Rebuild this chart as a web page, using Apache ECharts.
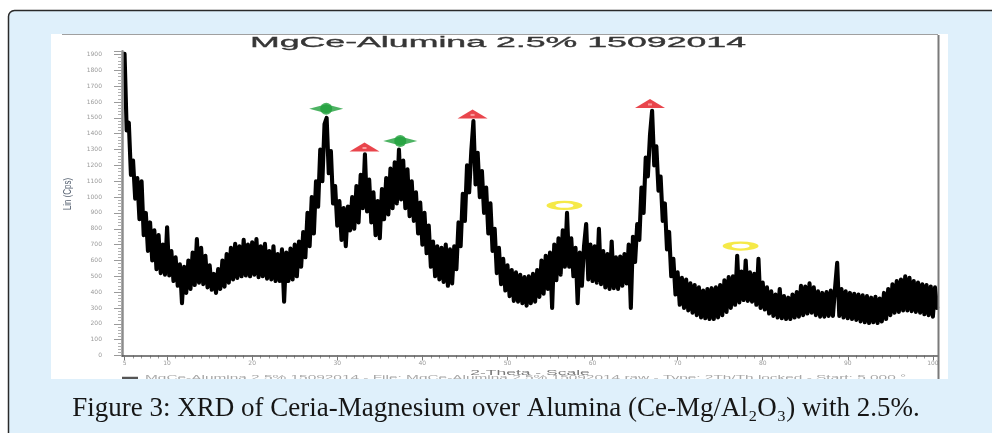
<!DOCTYPE html>
<html>
<head>
<meta charset="utf-8">
<script src="https://cdn.jsdelivr.net/npm/echarts@6/dist/echarts.min.js"></script>
<style>
html,body{margin:0;padding:0;background:#ffffff;}
#chart{width:992px;height:433px;}
</style>
</head>
<body>
<div id="chart"></div>
<script>
// ---- data ----
const chartTitle = 'MgCe-Alumina 2.5% 15092014';
const xAxisTitle = '2-Theta - Scale';
const yAxisTitle = 'Lin (Cps)';
const captionText = 'Figure 3: XRD of Ceria-Magnesium over Alumina (Ce-Mg/Al\u2082O\u2083) with 2.5%.';
const fileInfoText = 'MgCe-Alumina 2.5% 15092014 - File: MgCe-Alumina 2.5% 15092014.raw - Type: 2Th/Th locked - Start: 5.000 \u00b0';

const twoThetaStart = 5.0;   // degrees
const twoThetaStep = 0.25;   // degrees between samples
const intensityCps = [
  1905,1420,1470,1140, 1230,990,1120,860, 1100,760,900,660, 840,600,790,545,
  760,520,700,510, 810,505,660,470, 620,440,575,330, 560,395,600,420,
  650,445,735,460, 680,450,630,430, 570,415,515,395, 545,420,600,435,
  640,460,680,480, 705,490,690,500, 730,505,700,500, 715,510,735,495,
  690,500,705,485, 660,480,690,470, 640,470,670,340, 650,470,675,480,
  700,500,720,560, 780,620,900,690, 1000,770,1100,940, 1300,1100,1460,1500,
  1150,1290,960,1070, 820,975,730,930, 690,940,790,1000, 800,1070,840,1140,
  930,1270,910,1110, 840,1030,760,975, 740,1050,860,1120, 890,1180,930,1220,
  960,1300,985,1230, 930,1175,880,1100, 850,1030,770,965, 700,900,645,820,
  560,720,500,690, 480,680,465,700, 440,670,455,690, 545,840,690,1020,
  850,1200,1030,1290, 1480,1080,1280,1000, 1165,900,1060,770, 960,660,800,520,
  680,450,610,410, 570,375,540,345, 525,340,510,330, 495,315,500,330,
  515,340,540,370, 600,390,630,420, 650,300,700,475, 740,510,790,560,
  900,560,740,500, 680,330,650,440, 690,830,480,700, 470,690,460,800,
  450,660,430,640, 420,720,425,620, 420,625,440,640, 455,700,300,750,
  590,830,730,1060, 900,1250,1130,1390, 1545,1200,1320,1040, 1130,850,960,670,
  780,500,610,385, 525,320,490,300, 480,285,455,270, 445,255,430,240,
  410,235,420,230, 425,230,430,240, 445,255,475,275, 495,300,500,320,
  630,335,530,350, 600,345,525,340, 515,320,610,300, 460,290,430,265,
  405,250,385,240, 420,235,375,230, 365,230,385,240, 400,245,440,255,
  435,265,455,270, 430,255,405,245, 395,245,400,250, 410,250,425,585,
  250,420,240,405, 235,395,230,390, 225,385,215,380, 210,375,205,365,
  210,370,205,360, 215,395,230,420, 255,450,270,470, 275,480,285,500,
  285,490,280,470, 275,460,270,450, 260,445,255,435, 245,430,300
];

// phase identification markers [2-theta, counts]
const phaseGreen = [[28.7, 1558], [37.4, 1354]];
const phaseRed = [[33.2, 1316], [45.9, 1525], [66.75, 1591]];
const phaseYellow = [[56.7, 947], [77.4, 691]];

// axis ticks
const xTickLabels = [5, 10, 20, 30, 40, 50, 60, 70, 80, 90, 100];
const xMin = 4.7, xMax = 100.6;
const yMin = 0, yMax = 1920, yInterval = 100;

// ---- build ----
const lineData = intensityCps.map((c, i) => [+(twoThetaStart + i * twoThetaStep).toFixed(2), c]);
const xMinorTicks = [];
for (let v = 5; v <= 100; v += 1) xMinorTicks.push(v);

const boxBlue = '#dff0fb';
const chart = echarts.init(document.getElementById('chart'), null, {renderer: 'canvas'});

const option = {
  animation: false,
  backgroundColor: '#ffffff',
  grid: {left: 122, right: 54, top: 51.33, bottom: 77.5, containLabel: false},
  xAxis: [
    {
      type: 'value', min: xMin, max: xMax, position: 'bottom', z: 5,
      axisLine: {show: true, onZero: false, lineStyle: {color: '#555', width: 1.5}},
      axisTick: {show: true, customValues: xTickLabels, length: 5, lineStyle: {color: '#777'}},
      axisLabel: {show: true, customValues: xTickLabels, fontSize: 6, color: '#9a9a9a', margin: 5,
        fontFamily: 'DejaVu Sans'},
      splitLine: {show: false}
    },
    {
      type: 'value', min: xMin, max: xMax, position: 'bottom',
      axisLine: {show: false},
      axisTick: {show: true, customValues: xMinorTicks, length: 3, lineStyle: {color: '#999'}},
      axisLabel: {show: false},
      splitLine: {show: false}
    }
  ],
  yAxis: {
    type: 'value', min: yMin, max: yMax, interval: yInterval, z: 5,
    axisLine: {show: true, lineStyle: {color: '#8c8c8c', width: 2.5}},
    axisTick: {show: true, length: 8, lineStyle: {color: '#9a9a9a'}},
    minorTick: {show: true, splitNumber: 5, length: 4, lineStyle: {color: '#b0b0b0'}},
    axisLabel: {show: true, fontSize: 6, color: '#9a9a9a', margin: 20, showMaxLabel: false,
      fontFamily: 'DejaVu Sans', formatter: (v) => String(v)},
    splitLine: {show: false}
  },
  series: [
    {
      type: 'line', name: 'MgCe-Alumina 2.5%', data: lineData, xAxisIndex: 0,
      showSymbol: false, symbol: 'none', sampling: null,
      lineStyle: {color: '#000000', width: 4.1, join: 'round', cap: 'round'}, z: 2
    },
    {
      type: 'scatter', data: phaseGreen, xAxisIndex: 0, symbol: 'diamond', symbolSize: [34, 9],
      itemStyle: {color: '#20a03c'}, z: 4, silent: true
    },
    {
      type: 'scatter', data: phaseGreen, xAxisIndex: 0, symbol: 'circle', symbolSize: [12, 12],
      itemStyle: {color: '#20a03c'}, z: 4, silent: true
    },
    {
      type: 'scatter', data: phaseRed, xAxisIndex: 0, symbol: 'triangle', symbolSize: [30, 9],
      itemStyle: {color: '#e3161f'}, z: 4, silent: true
    },
    {
      type: 'scatter', data: phaseRed, xAxisIndex: 0, symbol: 'rect', symbolSize: [4, 2], symbolOffset: [0, 1],
      itemStyle: {color: '#ffb0b0'}, z: 5, silent: true
    },
    {
      type: 'scatter', data: phaseYellow, xAxisIndex: 0, symbol: 'circle', symbolSize: [27, 7],
      itemStyle: {color: 'rgba(0,0,0,0)', borderColor: '#f2e31a', borderWidth: 4.5}, z: 4, silent: true
    }
  ],
  graphic: {
    elements: [
      {type: 'rect', z: -100, silent: true,
        shape: {x: 8.5, y: 10.5, width: 1000, height: 450, r: 6},
        style: {fill: boxBlue, stroke: '#2a2a2a', lineWidth: 1.5}},
      {type: 'rect', z: -90, silent: true,
        shape: {x: 51, y: 34, width: 897, height: 345},
        style: {fill: '#ffffff'}},
      {type: 'line', z: 50, silent: true,
        shape: {x1: 62, y1: 34.5, x2: 938, y2: 34.5},
        style: {stroke: '#a0a0a0', lineWidth: 1}},
      {type: 'line', z: 50, silent: true,
        shape: {x1: 938.5, y1: 35, x2: 938.5, y2: 379},
        style: {stroke: '#7a7a7a', lineWidth: 2}},
      {type: 'text', z: 60, silent: true, x: 498, y: 43, scaleX: 2.55, scaleY: 1,
        style: {text: chartTitle, font: '14px "Liberation Sans", Arial, sans-serif',
          fill: '#363636', align: 'center', verticalAlign: 'middle',
          stroke: '#363636', lineWidth: 0.3}},
      {type: 'text', z: 60, silent: true, x: 530, y: 373, scaleX: 2.5, scaleY: 1,
        style: {text: xAxisTitle, font: '7px "Liberation Sans", Arial, sans-serif',
          fill: '#7a7a7a', align: 'center', verticalAlign: 'middle'}},
      {type: 'text', z: 60, silent: true, x: 68, y: 194, rotation: Math.PI / 2, scaleX: 1, scaleY: 1.3,
        style: {text: yAxisTitle, font: '8px "Liberation Sans", Arial, sans-serif',
          fill: '#556070', align: 'center', verticalAlign: 'middle'}},
      {type: 'line', z: 60, silent: true,
        shape: {x1: 122, y1: 378, x2: 138, y2: 378},
        style: {stroke: '#555', lineWidth: 2.5}},
      {type: 'text', z: 60, silent: true, x: 145, y: 374.5, scaleX: 2.2, scaleY: 1,
        style: {text: fileInfoText, font: '7px "Liberation Sans", Arial, sans-serif',
          fill: '#a8a8a8', align: 'left', verticalAlign: 'top'}},
      {type: 'rect', z: 70, silent: true,
        shape: {x: 51, y: 379, width: 897, height: 10},
        style: {fill: boxBlue}},
      {type: 'text', z: 80, silent: true, x: 496, y: 409,
        style: {text: captionText, font: '27px "Liberation Serif", "DejaVu Serif", serif',
          fill: '#161616', align: 'center', verticalAlign: 'middle'}}
    ]
  }
};
chart.setOption(option);
</script>
</body>
</html>
